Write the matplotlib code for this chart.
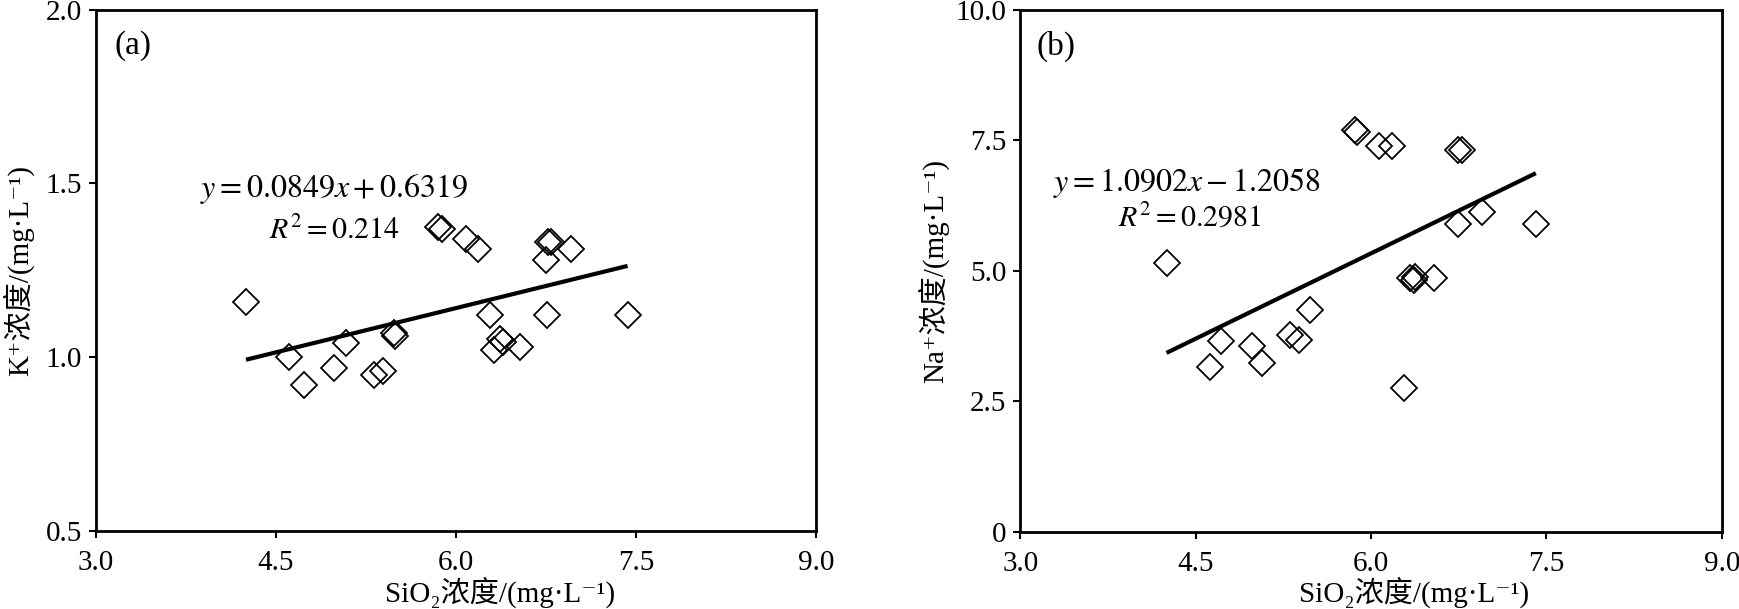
import matplotlib
matplotlib.use("Agg")
import matplotlib.pyplot as plt
import numpy as np

SERIF = ["Liberation Serif", "DejaVu Serif", "Noto Sans CJK SC"]

# panel (a): SiO2 vs K+
sio2_k = [4.25, 4.61, 4.73, 4.98, 5.08, 5.32, 5.39, 5.48, 5.49, 5.85, 5.88, 6.08,
          6.18, 6.28, 6.32, 6.37, 6.39, 6.53, 6.75, 6.77, 6.79, 6.76, 6.96, 7.43]
k_conc = [1.16, 1.00, 0.92, 0.97, 1.04, 0.95, 0.96, 1.07, 1.06, 1.375, 1.368, 1.34,
          1.31, 1.12, 1.02, 1.053, 1.043, 1.03, 1.28, 1.33, 1.332, 1.12, 1.31, 1.12]
k_fit = (0.0849, 0.6319)

# panel (b): SiO2 vs Na+
sio2_na = [4.25, 4.62, 4.72, 4.98, 5.07, 5.31, 5.38, 5.48, 5.86, 5.88, 6.07, 6.18,
           6.28, 6.33, 6.37, 6.38, 6.54, 6.74, 6.78, 6.74, 6.95, 7.41]
na_conc = [5.15, 3.16, 3.66, 3.55, 3.23, 3.77, 3.68, 4.24, 7.70, 7.67, 7.39, 7.39,
           2.75, 4.86, 4.82, 4.88, 4.86, 7.32, 7.32, 5.90, 6.12, 5.90]
na_fit = (1.0902, -1.2058)

x_ticks = [3.0, 4.5, 6.0, 7.5, 9.0]
x_tick_labels = ["3.0", "4.5", "6.0", "7.5", "9.0"]
k_ticks = [0.5, 1.0, 1.5, 2.0]
k_tick_labels = ["0.5", "1.0", "1.5", "2.0"]
na_ticks = [0, 2.5, 5.0, 7.5, 10.0]
na_tick_labels = ["0", "2.5", "5.0", "7.5", "10.0"]

plt.rcParams["font.family"] = SERIF
plt.rcParams["mathtext.fontset"] = "stix"

FS = 21


def style_axes(ax):
    for sp in ax.spines.values():
        sp.set_linewidth(2.0)
        sp.set_color("black")
    ax.tick_params(direction="out", length=5, width=1.5, labelsize=FS, colors="black")
    ax.tick_params(axis="x", pad=9)
    ax.tick_params(axis="y", pad=5)


def draw_panel(ax, xs, ys, fit, yticks, ylabels, ylim, tag, eq, r2, pos):
    ax.plot(xs, ys, linestyle="none", marker="D", ms=13, mfc="none", mec="black",
            mew=1.3)
    xl = np.array([min(xs), max(xs)])
    ax.plot(xl, fit[0] * xl + fit[1], color="black", lw=3, solid_capstyle="butt")
    ax.set_xlim(3.0, 9.0)
    ax.set_ylim(*ylim)
    ax.set_xticks(x_ticks)
    ax.set_xticklabels(x_tick_labels)
    ax.set_yticks(yticks)
    ax.set_yticklabels(ylabels)
    style_axes(ax)
    ax.text(pos[0][0], pos[0][1], tag, transform=ax.transAxes, fontsize=24,
            ha="left", va="center")
    ax.text(pos[1][0], pos[1][1], eq, transform=ax.transAxes, fontsize=23,
            ha="left", va="center")
    ax.text(pos[2][0], pos[2][1], r2, transform=ax.transAxes, fontsize=21.5,
            ha="left", va="center")


fig = plt.figure(figsize=(17.39, 6.09), dpi=100)
ax1 = fig.add_axes([96 / 1739, 78 / 609, 720 / 1739, 521.4 / 609])
ax2 = fig.add_axes([1020.4 / 1739, 77.3 / 609, 701.3 / 1739, 521.7 / 609])

draw_panel(ax1, sio2_k, k_conc, k_fit, k_ticks, k_tick_labels, (0.5, 2.0), "(a)",
           r"$y = 0.0849x + 0.6319$", r"$R^2 = 0.214$",
           [(0.025, 0.930), (0.144, 0.656), (0.240, 0.575)])
draw_panel(ax2, sio2_na, na_conc, na_fit, na_ticks, na_tick_labels, (0, 10.0), "(b)",
           r"$y = 1.0902x - 1.2058$", r"$R^2 = 0.2981$",
           [(0.023, 0.931), (0.047, 0.668), (0.139, 0.603)])

xlabel = "SiO\u2082浓度/(mg\u00b7L\u207b\u00b9)"
for ax, ylab, lx in [(ax1, "K\u207a浓度/(mg\u00b7L\u207b\u00b9)", -0.108),
                     (ax2, "Na\u207a浓度/(mg\u00b7L\u207b\u00b9)", -0.124)]:
    ax.set_xlabel(xlabel, fontsize=FS, va="bottom")
    ax.xaxis.set_label_coords(0.561, -0.147)
    ax.set_ylabel(ylab, fontsize=FS, va="center")
    ax.yaxis.set_label_coords(lx, 0.5)

fig.savefig("out.png", dpi=100, facecolor="white")
